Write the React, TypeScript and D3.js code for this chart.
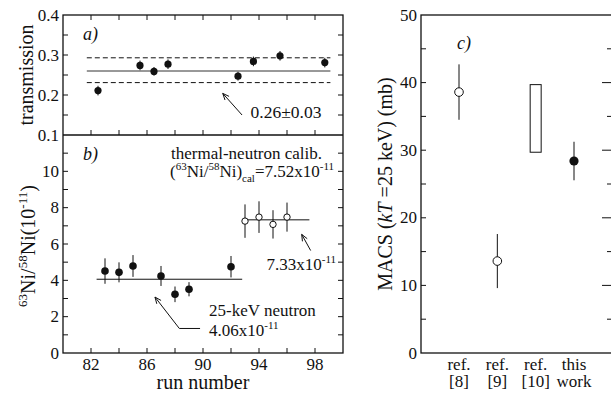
import React from "react";
import * as d3 from "d3";

// panel a) transmission per run
const transRuns = [82.5, 85.5, 86.5, 87.5, 92.5, 93.6, 95.5, 98.7];
const transVals = [0.211, 0.274, 0.259, 0.277, 0.247, 0.284, 0.298, 0.281];
const transErr = [0.012, 0.012, 0.011, 0.012, 0.011, 0.012, 0.012, 0.012];
const transMean = 0.26;
const transBand = [0.231, 0.293];
const transSpan = [81.7, 99.1];

// panel b) 63Ni/58Ni ratio
const neutronRuns = [83, 84, 85, 87, 88, 89, 92];
const neutronVals = [4.51, 4.44, 4.79, 4.24, 3.23, 3.51, 4.75];
const neutronErr = [0.7, 0.55, 0.6, 0.55, 0.43, 0.39, 0.59];
const neutronMean = 4.06;
const neutronSpan = [82.4, 92.8];

const thermalRuns = [93, 94, 95, 96];
const thermalVals = [7.26, 7.48, 7.08, 7.48];
const thermalErr = [0.92, 0.87, 0.78, 0.8];
const thermalMean = 7.33;
const thermalSpan = [92.8, 97.6];

const runTicks = [82, 86, 90, 94, 98];

// panel c) MACS comparison
const macsCats = ["ref8", "ref9", "ref10", "this"];
const macsLabels = [["ref.", "[8]"], ["ref.", "[9]"], ["ref.", "[10]"], ["this", "work"]];
const macsVals = [38.6, 13.6, null, 28.4];
const macsErr = [4.1, 4.0, null, 2.85];
const macsRange = [29.7, 39.7]; // ref. [10]

const FONT = '"Liberation Serif", "Times New Roman", Times, serif';
const INK = "#111";

const W = 611;
const H = 396;

// left panels
const L = { left: 63, right: 343, top: 15, mid: 135, bottom: 353 };
// right panel
const R = { left: 421, right: 612, top: 15, bottom: 353 };

const x = d3.scaleLinear().domain([80, 100]).range([L.left, L.right]);
const yA = d3.scaleLinear().domain([0.1, 0.4]).range([L.mid, L.top]);
const yB = d3.scaleLinear().domain([0, 12]).range([L.bottom, L.mid]);
const xC = d3.scalePoint<string>().domain(macsCats).range([459, 574]);
const yC = d3.scaleLinear().domain([0, 50]).range([R.bottom, R.top]);

const txt = (size: number, extra: React.CSSProperties = {}): React.CSSProperties => ({
  fontFamily: FONT,
  fontSize: size,
  ...extra,
});

function Arrow({ pts }: { pts: [number, number][] }) {
  const line = d3.line();
  const [x1, y1] = pts[pts.length - 2];
  const [x2, y2] = pts[pts.length - 1];
  const ang = Math.atan2(y2 - y1, x2 - x1);
  const len = 7;
  const a1 = ang + Math.PI - 0.4;
  const a2 = ang + Math.PI + 0.4;
  return (
    <g stroke={INK} strokeWidth={1} fill="none">
      <path d={line(pts) || ""} />
      <path
        d={`M${x2 + len * Math.cos(a1)},${y2 + len * Math.sin(a1)}L${x2},${y2}L${x2 + len * Math.cos(a2)},${y2 + len * Math.sin(a2)}`}
      />
    </g>
  );
}

function Sci({ x0, y0, mant }: { x0: number; y0: number; mant: string }) {
  return (
    <text x={x0} y={y0} style={txt(17)}>
      {mant}x10
      <tspan style={{ fontSize: 11 }} dy={-7}>-11</tspan>
    </text>
  );
}

export default function App() {
  const ticksX = d3.range(82, 100, 2);
  const ticksA = d3.range(0.15, 0.39, 0.05);
  const ticksB = d3.range(1, 12, 1);
  const ticksC = d3.range(5, 50, 5);

  return (
    <svg
      width={W}
      height={H}
      style={{ position: "absolute", left: 0, top: 0, background: "#fff", fontFamily: FONT }}
      fill={INK}
    >
      {/* ---------- left frame ---------- */}
      <g stroke={INK} fill="none">
        <rect x={L.left} y={L.top} width={L.right - L.left} height={L.bottom - L.top} strokeWidth={1.3} />
        <line x1={L.left} x2={L.right} y1={L.mid} y2={L.mid} strokeWidth={1.3} />
        {ticksX.map((t) => (
          <g key={"tx" + t} strokeWidth={1}>
            <line x1={x(t)} x2={x(t)} y1={L.top} y2={L.top + 5} />
            <line x1={x(t)} x2={x(t)} y1={L.mid} y2={L.mid - 5} />
            <line x1={x(t)} x2={x(t)} y1={L.bottom} y2={L.bottom - 5} />
          </g>
        ))}
        {ticksA.map((t) => (
          <g key={"ta" + t} strokeWidth={1}>
            <line x1={L.left} x2={L.left + 5} y1={yA(t)} y2={yA(t)} />
            <line x1={L.right} x2={L.right - 5} y1={yA(t)} y2={yA(t)} />
          </g>
        ))}
        {ticksB.map((t) => (
          <g key={"tb" + t} strokeWidth={1}>
            <line x1={L.left} x2={L.left + 5} y1={yB(t)} y2={yB(t)} />
            <line x1={L.right} x2={L.right - 5} y1={yB(t)} y2={yB(t)} />
          </g>
        ))}
      </g>

      {/* tick labels left */}
      <g textAnchor="end" dominantBaseline="central">
        {[0.1, 0.2, 0.3, 0.4].map((t) => (
          <text key={"la" + t} x={L.left - 4} y={yA(t)} style={txt(17)}>{t.toFixed(1)}</text>
        ))}
        {[0, 2, 4, 6, 8, 10].map((t) => (
          <text key={"lb" + t} x={L.left - 4} y={yB(t)} style={txt(17)}>{t}</text>
        ))}
      </g>
      <g textAnchor="middle">
        {runTicks.map((t) => (
          <text key={"lx" + t} x={x(t)} y={370} style={txt(17)}>{t}</text>
        ))}
      </g>
      <text x={(L.left + L.right) / 2} y={389} style={txt(20)} textAnchor="middle">run number</text>
      <text transform={`translate(33,${(L.top + L.mid) / 2}) rotate(-90)`} style={txt(20)} textAnchor="middle">
        transmission
      </text>
      <text transform={`translate(35,${yB(6) + 2}) rotate(-90)`} style={txt(20)} textAnchor="middle">
        <tspan style={{ fontSize: 13 }} dy={-8}>63</tspan>
        <tspan dy={8}>Ni/</tspan>
        <tspan style={{ fontSize: 13 }} dy={-8}>58</tspan>
        <tspan dy={8}>Ni(10</tspan>
        <tspan style={{ fontSize: 13 }} dy={-8}>-11</tspan>
        <tspan dy={8}>)</tspan>
      </text>

      {/* ---------- panel a ---------- */}
      <text x={83} y={40} style={txt(18, { fontStyle: "italic" })}>a)</text>
      <g fill="none" strokeWidth={1}>
        <line x1={x(transSpan[0])} x2={x(transSpan[1])} y1={yA(transMean)} y2={yA(transMean)} stroke="#333" />
        {transBand.map((b) => (
          <line key={"band" + b} x1={x(transSpan[0])} x2={x(transSpan[1])} y1={yA(b)} y2={yA(b)} stroke={INK} strokeDasharray="5,3" />
        ))}
      </g>
      {transRuns.map((r, i) => (
        <g key={"pa" + i}>
          <line x1={x(r)} x2={x(r)} y1={yA(transVals[i] - transErr[i])} y2={yA(transVals[i] + transErr[i])} stroke={INK} />
          <circle cx={x(r)} cy={yA(transVals[i])} r={3.6} fill={INK} />
        </g>
      ))}
      <Arrow pts={[[x(92.79), yA(0.15)], [x(91.41), yA(0.204)]]} />
      <text x={x(93.4)} y={yA(0.142)} style={txt(17.5)}>0.26±0.03</text>

      {/* ---------- panel b ---------- */}
      <text x={83} y={160} style={txt(18, { fontStyle: "italic" })}>b)</text>
      <text x={171} y={159} style={txt(17)}>thermal-neutron calib.</text>
      <text x={170} y={177} style={txt(17)}>
        (<tspan style={{ fontSize: 11 }} dy={-7}>63</tspan>
        <tspan dy={7}>Ni/</tspan>
        <tspan style={{ fontSize: 11 }} dy={-7}>58</tspan>
        <tspan dy={7}>Ni)</tspan>
        <tspan style={{ fontSize: 11 }} dy={5}>cal</tspan>
        <tspan dy={-5}>=7.52x10</tspan>
        <tspan style={{ fontSize: 11 }} dy={-7}>-11</tspan>
      </text>

      <line x1={x(neutronSpan[0])} x2={x(neutronSpan[1])} y1={yB(neutronMean)} y2={yB(neutronMean)} stroke={INK} />
      <line x1={x(thermalSpan[0])} x2={x(thermalSpan[1])} y1={yB(thermalMean)} y2={yB(thermalMean)} stroke={INK} />
      {neutronRuns.map((r, i) => (
        <g key={"pn" + i}>
          <line x1={x(r)} x2={x(r)} y1={yB(neutronVals[i] - neutronErr[i])} y2={yB(neutronVals[i] + neutronErr[i])} stroke={INK} />
          <circle cx={x(r)} cy={yB(neutronVals[i])} r={3.8} fill={INK} />
        </g>
      ))}
      {thermalRuns.map((r, i) => (
        <g key={"pt" + i}>
          <line x1={x(r)} x2={x(r)} y1={yB(thermalVals[i] - thermalErr[i])} y2={yB(thermalVals[i] + thermalErr[i])} stroke={INK} />
          <circle cx={x(r)} cy={yB(thermalVals[i])} r={3.2} fill="#fff" stroke={INK} />
        </g>
      ))}
      <Arrow pts={[[x(97.69), yB(5.64)], [x(97.05), yB(6.53)]]} />
      <Sci x0={266.5} y0={269.5} mant="7.33" />
      <Arrow pts={[[x(89.79), yB(1.35)], [x(88.31), yB(1.35)], [x(86.57), yB(3.08)]]} />
      <text x={209} y={316} style={txt(17)}>25-keV neutron</text>
      <Sci x0={209} y0={336} mant="4.06" />

      {/* ---------- panel c ---------- */}
      <g stroke={INK} fill="none">
        <rect x={R.left} y={R.top} width={R.right - R.left} height={R.bottom - R.top} strokeWidth={1.3} />
        {ticksC.map((t) => (
          <g key={"tc" + t} strokeWidth={1}>
            <line x1={R.left} x2={R.left + 5} y1={yC(t)} y2={yC(t)} />
            <line x1={R.right} x2={R.right - (t % 10 === 0 ? 10 : 5)} y1={yC(t)} y2={yC(t)} />
          </g>
        ))}
      </g>
      <g textAnchor="end" dominantBaseline="central">
        {[0, 10, 20, 30, 40, 50].map((t) => (
          <text key={"lc" + t} x={R.left - 4} y={yC(t)} style={txt(17)}>{t}</text>
        ))}
      </g>
      <text transform={`translate(392,${(R.top + R.bottom) / 2}) rotate(-90)`} style={txt(20)} textAnchor="middle">
        MACS (<tspan style={{ fontStyle: "italic" }}>kT</tspan> =25 keV) (mb)
      </text>
      <text x={457} y={49} style={txt(18, { fontStyle: "italic" })}>c)</text>
      {macsCats.map((c, i) => (
        <g key={"cl" + c} textAnchor="middle">
          <text x={xC(c)} y={370} style={txt(17)}>{macsLabels[i][0]}</text>
          <text x={xC(c)} y={387} style={txt(17)}>{macsLabels[i][1]}</text>
        </g>
      ))}
      {macsCats.map((c, i) => {
        const v = macsVals[i];
        const e = macsErr[i];
        if (v == null || e == null) return null;
        const cx = xC(c) as number;
        return (
          <g key={"pc" + c}>
            <line x1={cx} x2={cx} y1={yC(v - e)} y2={yC(v + e)} stroke={INK} />
            {c === "this" ? (
              <circle cx={cx} cy={yC(v)} r={4.6} fill={INK} />
            ) : (
              <circle cx={cx} cy={yC(v)} r={4.3} fill="#fff" stroke={INK} />
            )}
          </g>
        );
      })}
      <rect
        x={(xC("ref10") as number) - 5.5}
        y={yC(macsRange[1])}
        width={11}
        height={yC(macsRange[0]) - yC(macsRange[1])}
        fill="none"
        stroke={INK}
      />
    </svg>
  );
}
